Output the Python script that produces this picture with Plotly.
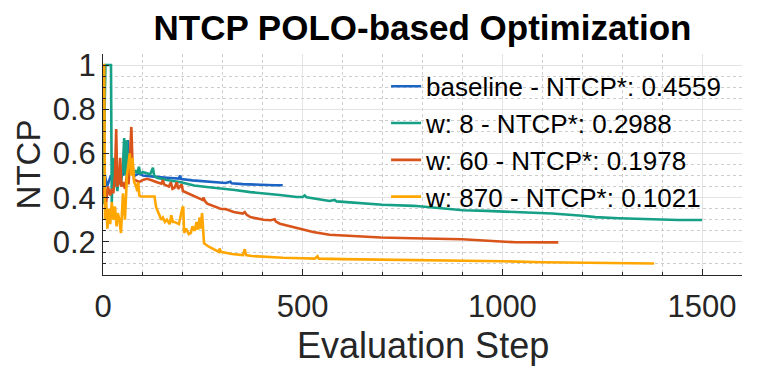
import plotly.graph_objects as go

# ---------------- data ----------------
names = [
    "baseline - NTCP*: 0.4559",
    "w: 8 - NTCP*: 0.2988",
    "w: 60 - NTCP*: 0.1978",
    "w: 870 - NTCP*: 0.1021",
]
colors = ["#1C64C4", "#16A086", "#D9541A", "#FFA600"]

baseline_x = [0, 10, 20, 30, 40, 50, 58, 62, 66, 72, 80, 90, 100, 120, 140, 160, 180, 190, 193, 196,
              224, 250, 280, 307, 319, 322, 350, 380, 414, 430, 450]
baseline_y = [0.55, 0.45, 0.50, 0.47, 0.52, 0.50, 0.58, 0.66, 0.55, 0.52, 0.50, 0.51, 0.50, 0.495, 0.493,
              0.49, 0.487, 0.486, 0.50, 0.484, 0.478, 0.474, 0.47, 0.466, 0.472, 0.465, 0.461, 0.458,
              0.455, 0.456, 0.4559]

w8_x = [0, 6, 20, 22, 25, 28, 32, 36, 40, 45, 50, 53, 56, 60, 63, 68, 75, 82, 86, 90, 93, 100, 110,
        118, 125, 128, 135, 160, 195, 228, 260, 294, 330, 369, 402, 443, 485, 500, 505, 510, 567, 580,
        585, 613, 650, 700, 778, 850, 902, 960, 985, 1050, 1125, 1200, 1233, 1291, 1350, 1400, 1440, 1500]
w8_y = [0.37, 1.0, 1.0, 0.38, 0.58, 0.45, 0.50, 0.43, 0.50, 0.46, 0.55, 0.67, 0.50, 0.66, 0.50, 0.52,
        0.51, 0.52, 0.51, 0.54, 0.51, 0.515, 0.51, 0.505, 0.535, 0.50, 0.49, 0.48, 0.47, 0.455, 0.448,
        0.443, 0.435, 0.425, 0.42, 0.412, 0.403, 0.403, 0.41, 0.402, 0.385, 0.39, 0.383, 0.38, 0.373,
        0.368, 0.363, 0.352, 0.343, 0.34, 0.338, 0.333, 0.328, 0.318, 0.312, 0.307, 0.303, 0.300,
        0.2988, 0.2988]

w60_x = [0, 8, 12, 18, 22, 26, 30, 33, 36, 40, 43, 46, 50, 55, 60, 64, 68, 71, 74, 78, 83, 90, 100,
         110, 120, 124, 135, 146, 150, 153, 165, 170, 174, 179, 185, 188, 197, 200, 228, 249, 252, 255,
         261, 282, 294, 307, 327, 350, 355, 360, 369, 402, 420, 430, 433, 443, 485, 526, 567, 610, 650,
         696, 774, 861, 900, 985, 1034, 1140]
w60_y = [0.44, 0.38, 0.45, 0.41, 0.44, 0.42, 0.50, 0.71, 0.45, 0.47, 0.58, 0.45, 0.47, 0.44, 0.50,
         0.46, 0.60, 0.72, 0.55, 0.48, 0.478, 0.47, 0.48, 0.485, 0.48, 0.478, 0.47, 0.463, 0.48, 0.46,
         0.45, 0.47, 0.44, 0.445, 0.47, 0.44, 0.46, 0.43, 0.405, 0.39, 0.40, 0.385, 0.373, 0.36, 0.35,
         0.348, 0.335, 0.328, 0.335, 0.322, 0.312, 0.30, 0.298, 0.302, 0.292, 0.282, 0.262, 0.245,
         0.232, 0.228, 0.223, 0.22, 0.216, 0.214, 0.212, 0.203, 0.198, 0.1978]

w870_x = [0, 3, 5, 8, 11, 14, 18, 22, 26, 30, 34, 37, 41, 45, 50, 55, 60, 64, 67, 70, 74, 78, 82, 86,
          88, 91, 95, 110, 129, 133, 140, 146, 150, 155, 160, 167, 171, 175, 179, 190, 199, 201, 203,
          208, 215, 220, 224, 230, 234, 238, 242, 245, 248, 251, 253, 265, 280, 290, 292, 295, 323, 350,
          355, 358, 372, 414, 450, 500, 530, 537, 540, 600, 700, 774, 900, 1000, 1100, 1233, 1300, 1380]
w870_y = [1.0, 1.0, 0.30, 0.38, 0.26, 0.35, 0.28, 0.38, 0.30, 0.36, 0.27, 0.33, 0.30, 0.24, 0.42,
          0.30, 0.50, 0.55, 0.60, 0.50, 0.58, 0.47, 0.455, 0.43, 0.47, 0.41, 0.405, 0.405, 0.405, 0.357,
          0.33, 0.30, 0.31, 0.29, 0.30, 0.28, 0.32, 0.29, 0.29, 0.28, 0.355, 0.36, 0.24, 0.26, 0.235,
          0.24, 0.27, 0.25, 0.29, 0.255, 0.31, 0.26, 0.33, 0.23, 0.193, 0.178, 0.165, 0.155, 0.17, 0.155,
          0.145, 0.14, 0.167, 0.14, 0.136, 0.13, 0.128, 0.126, 0.124, 0.135, 0.124, 0.122, 0.12, 0.118,
          0.114, 0.112, 0.108, 0.104, 0.103, 0.1021]

x_tickvals = [0, 500, 1000, 1500]
y_tickvals = [0.2, 0.4, 0.6, 0.8, 1.0]
y_ticktext = ["0.2", "0.4", "0.6", "0.8", "1"]

title_text = "<b>NTCP POLO-based Optimization</b>"
x_title = "Evaluation Step"
y_title = "NTCP"

# ---------------- figure ----------------
series = [(baseline_x, baseline_y), (w8_x, w8_y), (w60_x, w60_y), (w870_x, w870_y)]

fig = go.Figure()
for (xs, ys), name, col in zip(series, names, colors):
    fig.add_trace(go.Scatter(x=xs, y=ys, mode="lines", name=name,
                             line=dict(color=col, width=2.6)))

FONT = "Liberation Sans, Arial, Helvetica, sans-serif"
axis_common = dict(
    showline=True, linecolor="#262626", linewidth=1, mirror=False,
    ticks="inside", ticklen=6, tickcolor="#262626", tickwidth=1,
    showgrid=True, gridcolor="#E3E3E3", gridwidth=1,
    zeroline=False, automargin=False,
    tickfont=dict(family=FONT, size=31, color="#262626"),
)

# the page body adds an 8px offset, so the figure is 8px smaller than the window
fig.update_layout(
    width=770, height=379,
    margin=dict(l=95, r=36, t=46, b=112),
    paper_bgcolor="white", plot_bgcolor="white",
    title=dict(text=title_text, x=0.5, xref="paper", xanchor="center",
               y=0.948, yref="container", yanchor="middle", automargin=False,
               font=dict(family=FONT, size=35, color="black")),
    legend=dict(x=0.443, y=0.96, xanchor="left", yanchor="top",
                bgcolor="rgba(0,0,0,0)", borderwidth=0,
                font=dict(family=FONT, size=26, color="black"),
                tracegroupgap=0),
    showlegend=True,
)

# axis titles as annotations (placed relative to the plot area)
fig.add_annotation(text=x_title, xref="paper", yref="paper", x=0.5, y=-0.317,
                   xanchor="center", yanchor="middle", showarrow=False,
                   font=dict(family=FONT, size=36, color="#262626"))
fig.add_annotation(text=y_title, xref="paper", yref="paper", x=-0.116, y=0.5,
                   xanchor="center", yanchor="middle", textangle=-90, showarrow=False,
                   font=dict(family=FONT, size=33, color="#262626"))

fig.update_xaxes(
    range=[0, 1600], tickvals=x_tickvals, ticklabelstandoff=4,
    minor=dict(tickmode="linear", tick0=0, dtick=100, ticks="inside", ticklen=3,
               tickcolor="#262626", showgrid=True, gridcolor="#CDCDCD", griddash="dot"),
    **axis_common,
)
fig.update_yaxes(
    range=[0.05, 1.05], tickvals=y_tickvals, ticktext=y_ticktext,
    minor=dict(tickmode="linear", tick0=0, dtick=0.05, ticks="inside", ticklen=3,
               tickcolor="#262626", showgrid=True, gridcolor="#CDCDCD", griddash="dot"),
    **axis_common,
)

fig.write_html("out.html")
